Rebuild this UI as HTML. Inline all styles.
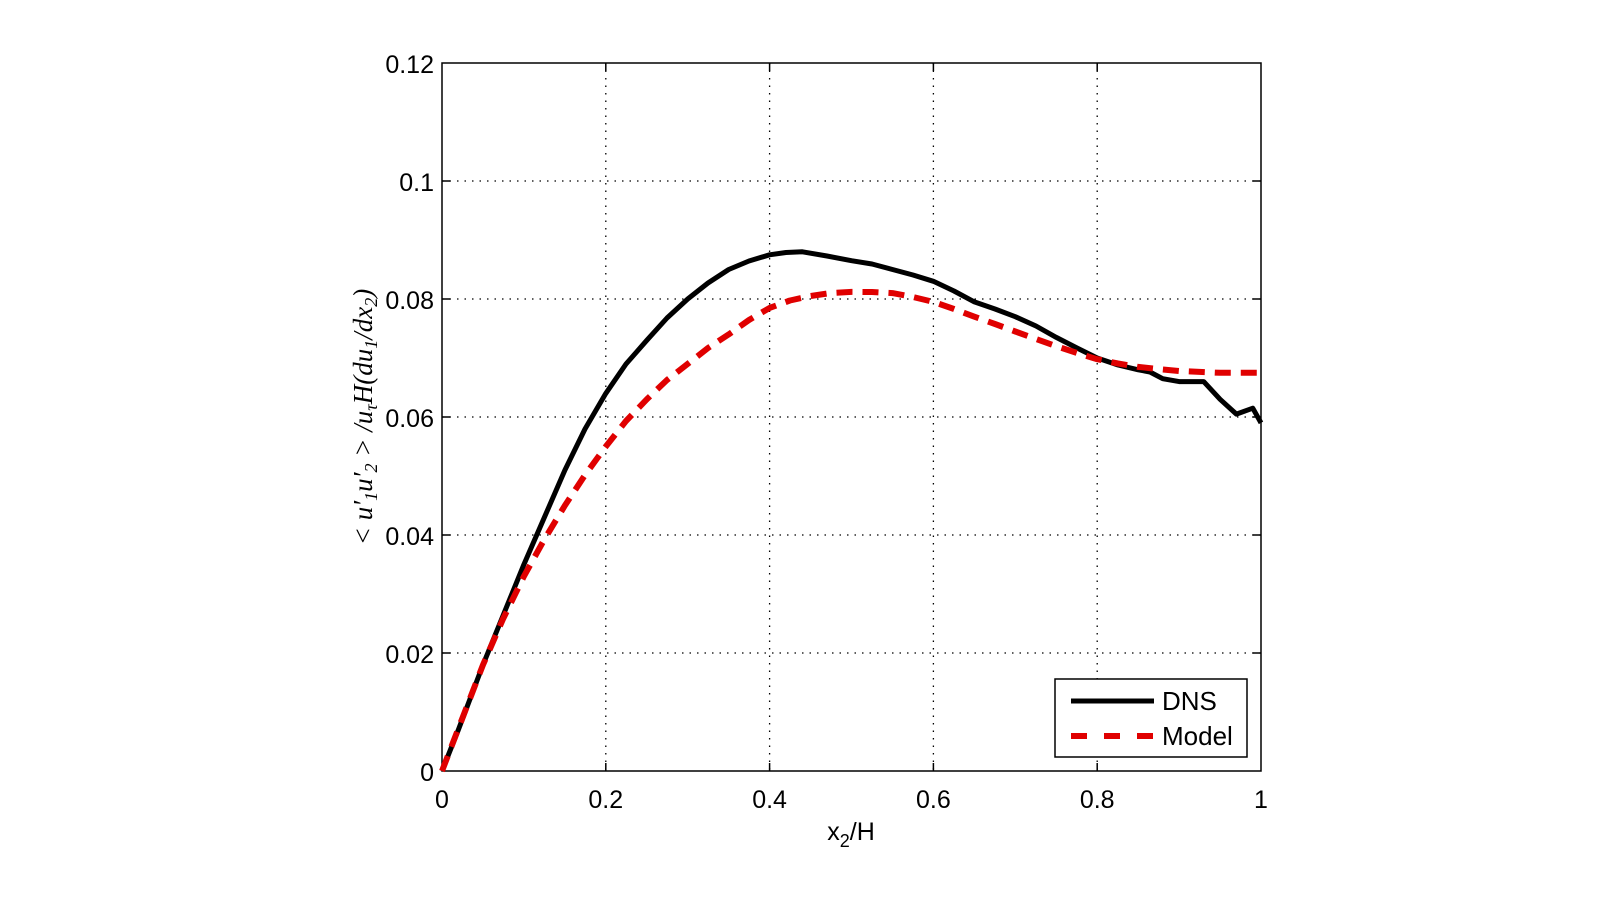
<!DOCTYPE html>
<html><head><meta charset="utf-8"><style>html,body{margin:0;padding:0;background:#fff}</style></head><body>
<svg width="1600" height="900" xmlns="http://www.w3.org/2000/svg" font-family="Liberation Sans, sans-serif">
<rect width="1600" height="900" fill="#fff"/>
<g stroke="#000" stroke-width="1.3" stroke-dasharray="1.5,6" fill="none">
<line x1="605.8" y1="63" x2="605.8" y2="771"/><line x1="769.6" y1="63" x2="769.6" y2="771"/>
<line x1="933.4" y1="63" x2="933.4" y2="771"/><line x1="1097.2" y1="63" x2="1097.2" y2="771"/>
<line x1="442" y1="181" x2="1261" y2="181"/><line x1="442" y1="299" x2="1261" y2="299"/>
<line x1="442" y1="417" x2="1261" y2="417"/><line x1="442" y1="535" x2="1261" y2="535"/>
<line x1="442" y1="653" x2="1261" y2="653"/>
</g>
<rect x="442" y="63" width="819" height="708" fill="none" stroke="#000" stroke-width="1.5"/>
<g stroke="#000" stroke-width="1.5">
<line x1="605.8" y1="771" x2="605.8" y2="763"/><line x1="769.6" y1="771" x2="769.6" y2="763"/><line x1="933.4" y1="771" x2="933.4" y2="763"/><line x1="1097.2" y1="771" x2="1097.2" y2="763"/>
<line x1="605.8" y1="63" x2="605.8" y2="71"/><line x1="769.6" y1="63" x2="769.6" y2="71"/><line x1="933.4" y1="63" x2="933.4" y2="71"/><line x1="1097.2" y1="63" x2="1097.2" y2="71"/>
<line x1="442" y1="181" x2="450" y2="181"/><line x1="442" y1="299" x2="450" y2="299"/><line x1="442" y1="417" x2="450" y2="417"/><line x1="442" y1="535" x2="450" y2="535"/><line x1="442" y1="653" x2="450" y2="653"/>
<line x1="1261" y1="181" x2="1253" y2="181"/><line x1="1261" y1="299" x2="1253" y2="299"/><line x1="1261" y1="417" x2="1253" y2="417"/><line x1="1261" y1="535" x2="1253" y2="535"/><line x1="1261" y1="653" x2="1253" y2="653"/>
</g>
<g font-size="25" fill="#000" text-anchor="end">
<text x="434" y="73">0.12</text><text x="434" y="191">0.1</text><text x="434" y="309">0.08</text><text x="434" y="427">0.06</text><text x="434" y="545">0.04</text><text x="434" y="663">0.02</text><text x="434" y="781">0</text>
</g>
<g font-size="25" fill="#000" text-anchor="middle">
<text x="442" y="808">0</text><text x="605.8" y="808">0.2</text><text x="769.6" y="808">0.4</text><text x="933.4" y="808">0.6</text><text x="1097.2" y="808">0.8</text><text x="1261" y="808">1</text>
<text x="851" y="840">x<tspan font-size="18" dy="7">2</tspan><tspan dy="-7">/H</tspan></text>
</g>
<text transform="translate(372,417) rotate(-90)" text-anchor="middle" font-family="Liberation Serif, serif" font-style="italic" font-size="27" fill="#000">&lt; u′<tspan font-size="18" dy="5">1</tspan><tspan dy="-5">u′</tspan><tspan font-size="18" dy="5">2</tspan><tspan dy="-5"> &gt; /u</tspan><tspan font-size="18" dy="5">τ</tspan><tspan dy="-5">H(du</tspan><tspan font-size="18" dy="5">1</tspan><tspan dy="-5">/dx</tspan><tspan font-size="18" dy="5">2</tspan><tspan dy="-5">)</tspan></text>
<polyline fill="none" stroke="#000" stroke-width="5" stroke-linejoin="round" points="442,771 458.4,729.7 483,664.8 523.9,564.5 564.9,470.1 585,429 605.8,393.4 626,364 646.8,340.3 667,318 687.7,299 708,283 728.7,269.5 749,261 769.6,254.8 786,252.5 802.4,251.8 827,256 851.5,260.7 872,264 892.5,269.5 913,275 933.4,281.3 954,291 974.4,301.9 995,309 1015.3,316.7 1036,326 1056.3,337.4 1077,348 1097.2,358 1118,365 1138.2,369.8 1150,372 1162.7,378.7 1179.1,381.6 1203.7,381.6 1220.1,399.3 1236.4,414.1 1252.8,408.2 1261,422.9"/>
<polyline fill="none" stroke="#e00000" stroke-width="6" stroke-dasharray="16,10" stroke-linejoin="round" points="442,771 483,664.8 503,619 523.9,576.3 544,540 564.9,505.5 585,475 605.8,446.5 626,421 646.8,399.3 667,380 687.7,363.9 708,348 728.7,334.4 749,320 769.6,307.9 790,300.5 810.6,296 831,293 851.5,291.9 872,292 892.5,293.1 913,297 933.4,301.9 954,309 974.4,316.7 995,324 1015.3,331.5 1036,339 1056.3,346.2 1077,353 1097.2,359.2 1118,363.5 1138.2,366.9 1158,369 1179.1,371 1220.1,372.8 1261,372.8"/>
<rect x="1055" y="679" width="192" height="78" fill="#fff" stroke="#000" stroke-width="1.5"/>
<line x1="1071" y1="701" x2="1154" y2="701" stroke="#000" stroke-width="5"/>
<line x1="1071" y1="736" x2="1154" y2="736" stroke="#e00000" stroke-width="6" stroke-dasharray="16,17"/>
<g font-size="26" fill="#000"><text x="1162" y="710">DNS</text><text x="1162" y="745">Model</text></g>
</svg>
</body></html>
